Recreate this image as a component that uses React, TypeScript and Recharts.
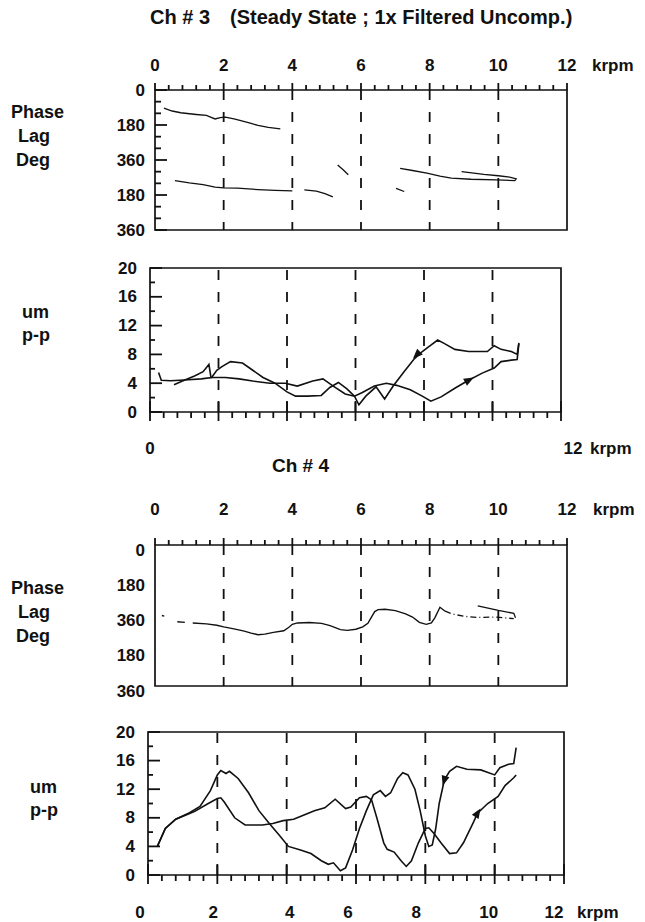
import React from 'react';
import { LineChart, Line, XAxis, YAxis, ReferenceLine, ReferenceArea, ReferenceDot } from 'recharts';

type Pt = [number, number];

const W = 645;
const H = 922;
const FONT = '"Liberation Sans", Arial, sans-serif';
const INK = '#111';
const AXIS_H = 30;
const AXIS_W = 40;

// speed axis (krpm)
const krpmMajor = [0, 2, 4, 6, 8, 10, 12];
const krpmTicks = [0, 0.4, 0.8, 1.2, 1.6, 2, 2.4, 2.8, 3.2, 3.6, 4, 4.4, 4.8, 5.2, 5.6, 6, 6.4, 6.8, 7.2, 7.6, 8, 8.4, 8.8, 9.2, 9.6, 10, 10.4, 10.8, 11.2, 11.6, 12];
const krpmGrid = [2, 4, 6, 8, 10];

// phase axis: two turns, labelled 0 / 180 / 360 / 180 / 360
const phaseTicks = [0, 60, 120, 180, 240, 300, 360, 420, 480, 540, 600, 660, 720];
const phaseLabels: Record<number, string> = { 0: '0', 180: '180', 360: '360', 540: '180', 720: '360' };

// amplitude axis (um p-p)
const ampTicks = [0, 2, 4, 6, 8, 10, 12, 14, 16, 18, 20];
const ampLabels: Record<number, string> = { 0: '0', 4: '4', 8: '8', 12: '12', 16: '16', 20: '20' };

// Ch 3 phase lag (deg, second turn = 360..720)
const ch3PhaseUpper: Pt[] = [[0.26, 93], [0.5, 108], [0.75, 117], [1.2, 126], [1.5, 131], [1.6, 138], [1.75, 149], [1.9, 142], [2.05, 140], [2.3, 148], [2.5, 157], [2.8, 172], [3.0, 182], [3.3, 192], [3.65, 200]];
const ch3PhaseLower: Pt[] = [[0.58, 466], [1.0, 478], [1.4, 487], [1.75, 500], [2.0, 503], [2.4, 505], [3.0, 512], [3.5, 516], [4.0, 519]];
const ch3PhaseSegC: Pt[] = [[4.35, 514], [4.7, 520], [4.95, 533], [5.18, 550]];
const ch3PhaseSegD: Pt[] = [[5.32, 386], [5.48, 410], [5.63, 436]];
const ch3PhaseSegE: Pt[] = [[7.02, 506], [7.26, 522]];
const ch3PhaseLoop: Pt[] = [[7.14, 403], [7.5, 414], [7.92, 428], [8.3, 443], [8.63, 453], [9.2, 459], [9.94, 462], [10.48, 466], [10.52, 457], [10.36, 449], [10.0, 441], [9.58, 434], [8.93, 420]];

// Ch 3 amplitude (um p-p)
const ch3AmpA: Pt[] = [[0.7, 3.8], [1.0, 4.4], [1.3, 5.0], [1.55, 5.6], [1.72, 6.6], [1.78, 4.8], [2.2, 4.8], [2.6, 4.6], [3.0, 4.3], [3.5, 4.0], [3.95, 4.0], [4.3, 3.6], [4.75, 4.3], [5.05, 4.6], [5.35, 3.6], [5.7, 2.5], [5.97, 2.2], [6.2, 2.7], [6.55, 3.6], [6.9, 4.0], [7.2, 3.7], [7.6, 3.1], [7.95, 2.2], [8.2, 1.5], [8.5, 2.1], [8.9, 3.3], [9.3, 4.4], [9.7, 5.4], [10.05, 6.1], [10.25, 7.0], [10.55, 7.2], [10.72, 7.3], [10.77, 9.5]];
const ch3AmpB: Pt[] = [[0.25, 5.5], [0.33, 4.4], [0.6, 4.35], [1.0, 4.45], [1.5, 4.6], [1.8, 4.8], [1.95, 5.8], [2.1, 6.3], [2.35, 7.0], [2.7, 6.8], [3.0, 5.8], [3.3, 4.8], [3.65, 4.0], [4.0, 2.8], [4.25, 2.2], [4.6, 2.2], [5.0, 2.3], [5.25, 3.4], [5.5, 4.1], [5.75, 3.2], [5.97, 2.2], [6.1, 1.0], [6.3, 2.2], [6.6, 3.5], [6.85, 1.8], [7.1, 3.6], [7.4, 5.5], [7.7, 7.3], [7.95, 8.4], [8.2, 9.3], [8.4, 10.0], [8.6, 9.5], [8.9, 8.7], [9.3, 8.4], [9.85, 8.4], [10.05, 9.2], [10.25, 8.7], [10.55, 8.4], [10.72, 8.0], [10.77, 9.6]];
const ch3Arrows: [number, number, number][] = [[7.8, 8.0, 135], [9.3, 4.4, -29]];

// Ch 4 phase lag
const ch4PhaseDot: Pt[] = [[0.2, 360], [0.27, 363]];
const ch4PhaseDash: Pt[] = [[0.65, 392], [0.87, 395]];
const ch4PhaseMain: Pt[] = [[1.1, 398], [1.5, 403], [1.8, 410], [2.0, 418], [2.3, 428], [2.6, 440], [2.8, 450], [3.0, 458], [3.2, 455], [3.45, 446], [3.75, 438], [3.9, 420], [4.0, 405], [4.15, 398], [4.5, 396], [4.85, 400], [5.1, 412], [5.4, 432], [5.6, 436], [5.85, 430], [6.05, 418], [6.2, 400], [6.3, 370], [6.4, 340], [6.5, 330], [6.7, 328], [7.0, 335], [7.3, 352], [7.5, 368], [7.7, 395], [7.9, 405], [8.05, 398], [8.15, 372], [8.3, 318], [8.45, 338]];
const ch4PhaseTail: Pt[] = [[8.45, 338], [8.65, 352], [9.0, 364], [9.4, 370], [9.9, 368], [10.45, 376]];
const ch4PhaseHook: Pt[] = [[9.4, 311], [10.0, 334], [10.45, 349], [10.5, 372]];

// Ch 4 amplitude
const ch4AmpP: Pt[] = [[0.27, 4.0], [0.5, 6.5], [0.8, 7.8], [1.2, 8.7], [1.5, 9.6], [1.8, 11.8], [2.0, 14.0], [2.1, 14.6], [2.25, 14.2], [2.35, 14.5], [2.6, 13.5], [2.9, 11.5], [3.2, 9.0], [3.5, 7.2], [3.8, 5.5], [4.05, 4.0], [4.4, 3.5], [4.7, 3.0], [5.0, 2.0], [5.2, 1.5], [5.35, 1.7], [5.55, 0.6], [5.7, 1.0], [5.9, 3.5], [6.1, 6.5], [6.3, 9.0], [6.5, 11.2], [6.7, 11.8], [6.85, 11.0], [7.0, 11.5], [7.2, 13.5], [7.35, 14.3], [7.5, 14.0], [7.7, 12.0], [7.85, 9.0], [8.0, 5.5], [8.1, 4.0], [8.2, 4.2], [8.3, 6.5], [8.4, 10.0], [8.55, 13.3], [8.7, 14.5], [8.9, 15.2], [9.2, 14.8], [9.6, 14.7], [10.0, 14.0], [10.15, 15.0], [10.4, 15.5], [10.55, 15.6], [10.62, 17.8]];
const ch4AmpQ: Pt[] = [[0.27, 4.0], [0.5, 6.5], [0.8, 7.8], [1.2, 8.6], [1.35, 8.9], [1.7, 9.9], [2.0, 10.7], [2.1, 10.8], [2.2, 10.2], [2.5, 8.0], [2.8, 7.0], [3.3, 7.0], [3.6, 7.2], [3.9, 7.6], [4.2, 7.8], [4.5, 8.4], [4.8, 9.0], [5.1, 9.4], [5.4, 10.6], [5.7, 9.3], [5.85, 9.5], [6.1, 10.8], [6.3, 11.0], [6.45, 10.5], [6.6, 8.0], [6.8, 4.5], [6.9, 3.6], [7.1, 3.2], [7.3, 2.0], [7.45, 1.2], [7.6, 2.0], [7.8, 4.5], [8.0, 6.5], [8.1, 6.6], [8.25, 5.8], [8.45, 4.5], [8.7, 3.0], [8.9, 3.1], [9.1, 4.5], [9.4, 7.5], [9.5, 8.6], [9.8, 10.0], [10.1, 11.0], [10.3, 12.5], [10.55, 13.6], [10.62, 14.0]];
const ch4Arrows: [number, number, number][] = [[8.55, 13.3, 107], [9.5, 8.6, -58]];

const toRows = (pts: Pt[]) => pts.map(([k, v]) => ({ k, v }));

interface Series { data: Pt[]; dash?: string; width?: number }

interface PanelProps {
  left: number; right: number; top: number; bottom: number;
  yMax: number; reversed?: boolean;
  yTicks: number[]; yLabels: Record<number, string>; yTickLen: [number, number];
  yGap: number; yDy?: number;
  xTop: boolean; xLabels: Record<number, string>; xDx?: Record<number, number>; xOffset: number;
  series: Series[]; arrows?: [number, number, number][];
}

function Panel(p: PanelProps) {
  const margin = {
    top: p.xTop ? p.top - AXIS_H : p.top,
    left: p.left - AXIS_W,
    right: W - p.right,
    bottom: p.xTop ? H - p.bottom : H - p.bottom - AXIS_H,
  };
  const txt = { fontFamily: FONT, fontSize: 17, fontWeight: 'bold' as const, fill: INK };

  // tick marks are drawn by the tick renderers, relative to the axis line
  const xTick = (t: any) => {
    const { x, y, payload } = t;
    const v = payload.value;
    const major = krpmMajor.includes(v);
    const label = p.xLabels[v];
    let y1 = y;
    let y2 = y;
    if (p.xTop) y2 = y - (major ? 7 : 5);
    else if (major) { y1 = y - 11; y2 = y + 9; }
    else y2 = y + 6;
    return (
      <g>
        <line x1={x} x2={x} y1={y1} y2={y2} stroke={INK} strokeWidth={1.8} />
        {label !== undefined && (
          <text x={x + (p.xDx?.[v] ?? 0)} y={y + p.xOffset} textAnchor="middle" dominantBaseline="central" {...txt}>{label}</text>
        )}
      </g>
    );
  };

  const yTick = (t: any) => {
    const { x, y, payload } = t;
    const v = payload.value;
    const label = p.yLabels[v];
    const len = label !== undefined ? p.yTickLen[0] : p.yTickLen[1];
    return (
      <g>
        {len > 0 && <line x1={x} x2={x + len} y1={y} y2={y} stroke={INK} strokeWidth={1.8} />}
        {label !== undefined && (
          <text x={x - p.yGap} y={y + (p.yDy ?? 0)} textAnchor="end" dominantBaseline="central" {...txt}>{label}</text>
        )}
      </g>
    );
  };

  const arrowShape = (deg: number) => (s: any) => {
    const a = (deg * Math.PI) / 180;
    const rot = (px: number, py: number) => `${s.cx + px * Math.cos(a) - py * Math.sin(a)},${s.cy + px * Math.sin(a) + py * Math.cos(a)}`;
    return <polygon points={`${rot(6, 0)} ${rot(-4, -4)} ${rot(-4, 4)}`} fill={INK} />;
  };

  return (
    <div style={{ position: 'absolute', left: 0, top: 0 }}>
      <LineChart width={W} height={H} margin={margin}>
        <XAxis
          dataKey="k" type="number" domain={[0, 12]}
          ticks={krpmTicks} interval={0} orientation={p.xTop ? 'top' : 'bottom'}
          height={AXIS_H} tickSize={0} tickMargin={0} axisLine={false} tickLine={false} tick={xTick}
        />
        <YAxis
          type="number" domain={[0, p.yMax]} reversed={p.reversed}
          ticks={p.yTicks} interval={0} width={AXIS_W} tickSize={0} tickMargin={0}
          axisLine={false} tickLine={false} tick={yTick}
        />
        <ReferenceArea x1={0} x2={12} y1={0} y2={p.yMax} fill="none" stroke={INK} strokeWidth={1.7} />
        {krpmGrid.map((g) => (
          <ReferenceLine key={g} x={g} stroke={INK} strokeWidth={1.8} strokeDasharray="10 12" />
        ))}
        {p.series.map((s, i) => (
          <Line
            key={i} data={toRows(s.data)} dataKey="v" type="linear" dot={false}
            stroke={INK} strokeWidth={s.width ?? 1.6} strokeDasharray={s.dash}
            isAnimationActive={false}
          />
        ))}
        {(p.arrows ?? []).map(([k, v, deg], i) => (
          <ReferenceDot key={i} x={k} y={v} r={4} shape={arrowShape(deg)} />
        ))}
      </LineChart>
    </div>
  );
}

const topLabels: Record<number, string> = { 0: '0', 2: '2', 4: '4', 6: '6', 8: '8', 10: '10', 12: '12' };

export default function App() {
  const label = { fontFamily: FONT, fontWeight: 'bold' as const, fill: INK, dominantBaseline: 'central' as const };
  return (
    <div style={{ position: 'absolute', left: 0, top: 0, width: W, height: H, background: '#fff', overflow: 'hidden' }}>
      <Panel
        left={155} right={567} top={90} bottom={230} yMax={720} reversed
        yTicks={phaseTicks} yLabels={phaseLabels} yTickLen={[12, 6]} yGap={10}
        xTop xLabels={topLabels} xOffset={-25}
        series={[
          { data: ch3PhaseUpper, width: 1.3 }, { data: ch3PhaseLower, width: 1.3 },
          { data: ch3PhaseSegC, width: 1.3 }, { data: ch3PhaseSegD, width: 1.3 },
          { data: ch3PhaseSegE, width: 1.3 }, { data: ch3PhaseLoop, width: 1.3 },
        ]}
      />
      <Panel
        left={150} right={561} top={268} bottom={412} yMax={20}
        yTicks={ampTicks} yLabels={ampLabels} yTickLen={[12, 5]} yGap={13}
        xTop={false} xLabels={{ 0: '0', 12: '12' }} xDx={{ 12: 12 }} xOffset={36}
        series={[{ data: ch3AmpA }, { data: ch3AmpB }]} arrows={ch3Arrows}
      />
      <Panel
        left={155} right={567} top={545} bottom={686} yMax={720} reversed
        yTicks={phaseTicks} yLabels={phaseLabels} yTickLen={[0, 0]} yGap={10} yDy={5}
        xTop xLabels={topLabels} xOffset={-36}
        series={[
          { data: ch4PhaseDot, width: 1.3 }, { data: ch4PhaseDash, width: 1.3 },
          { data: ch4PhaseMain, width: 1.4 }, { data: ch4PhaseTail, width: 1.3, dash: '6 3 1 3' },
          { data: ch4PhaseHook, width: 1.3 },
        ]}
      />
      <Panel
        left={148} right={564} top={732} bottom={875} yMax={20}
        yTicks={ampTicks} yLabels={ampLabels} yTickLen={[12, 5]} yGap={13}
        xTop={false} xLabels={topLabels} xDx={{ 0: -8, 2: -4, 4: 3, 6: -8, 8: -9, 10: -6, 12: -10 }} xOffset={37}
        series={[{ data: ch4AmpP }, { data: ch4AmpQ }]} arrows={ch4Arrows}
      />
      <svg width={W} height={H} style={{ position: 'absolute', left: 0, top: 0, pointerEvents: 'none' }}>
        <text x={150} y={17} fontSize={20} {...label}>Ch # 3</text>
        <text x={230} y={17} fontSize={20} {...label}>(Steady State ; 1x Filtered Uncomp.)</text>
        <text x={592} y={65} fontSize={17} {...label}>krpm</text>
        <text x={11} y={112} fontSize={18} {...label}>Phase</text>
        <text x={18} y={136} fontSize={18} {...label}>Lag</text>
        <text x={16} y={160} fontSize={18} {...label}>Deg</text>
        <text x={22} y={312} fontSize={18} {...label}>um</text>
        <text x={22} y={335} fontSize={18} {...label}>p-p</text>
        <text x={590} y={448} fontSize={17} {...label}>krpm</text>
        <text x={272} y={465} fontSize={19} {...label}>Ch # 4</text>
        <text x={593} y={509} fontSize={17} {...label}>krpm</text>
        <text x={11} y={588} fontSize={18} {...label}>Phase</text>
        <text x={18} y={612} fontSize={18} {...label}>Lag</text>
        <text x={16} y={636} fontSize={18} {...label}>Deg</text>
        <text x={30} y={787} fontSize={18} {...label}>um</text>
        <text x={30} y={810} fontSize={18} {...label}>p-p</text>
        <text x={577} y={912} fontSize={17} {...label}>krpm</text>
      </svg>
    </div>
  );
}
